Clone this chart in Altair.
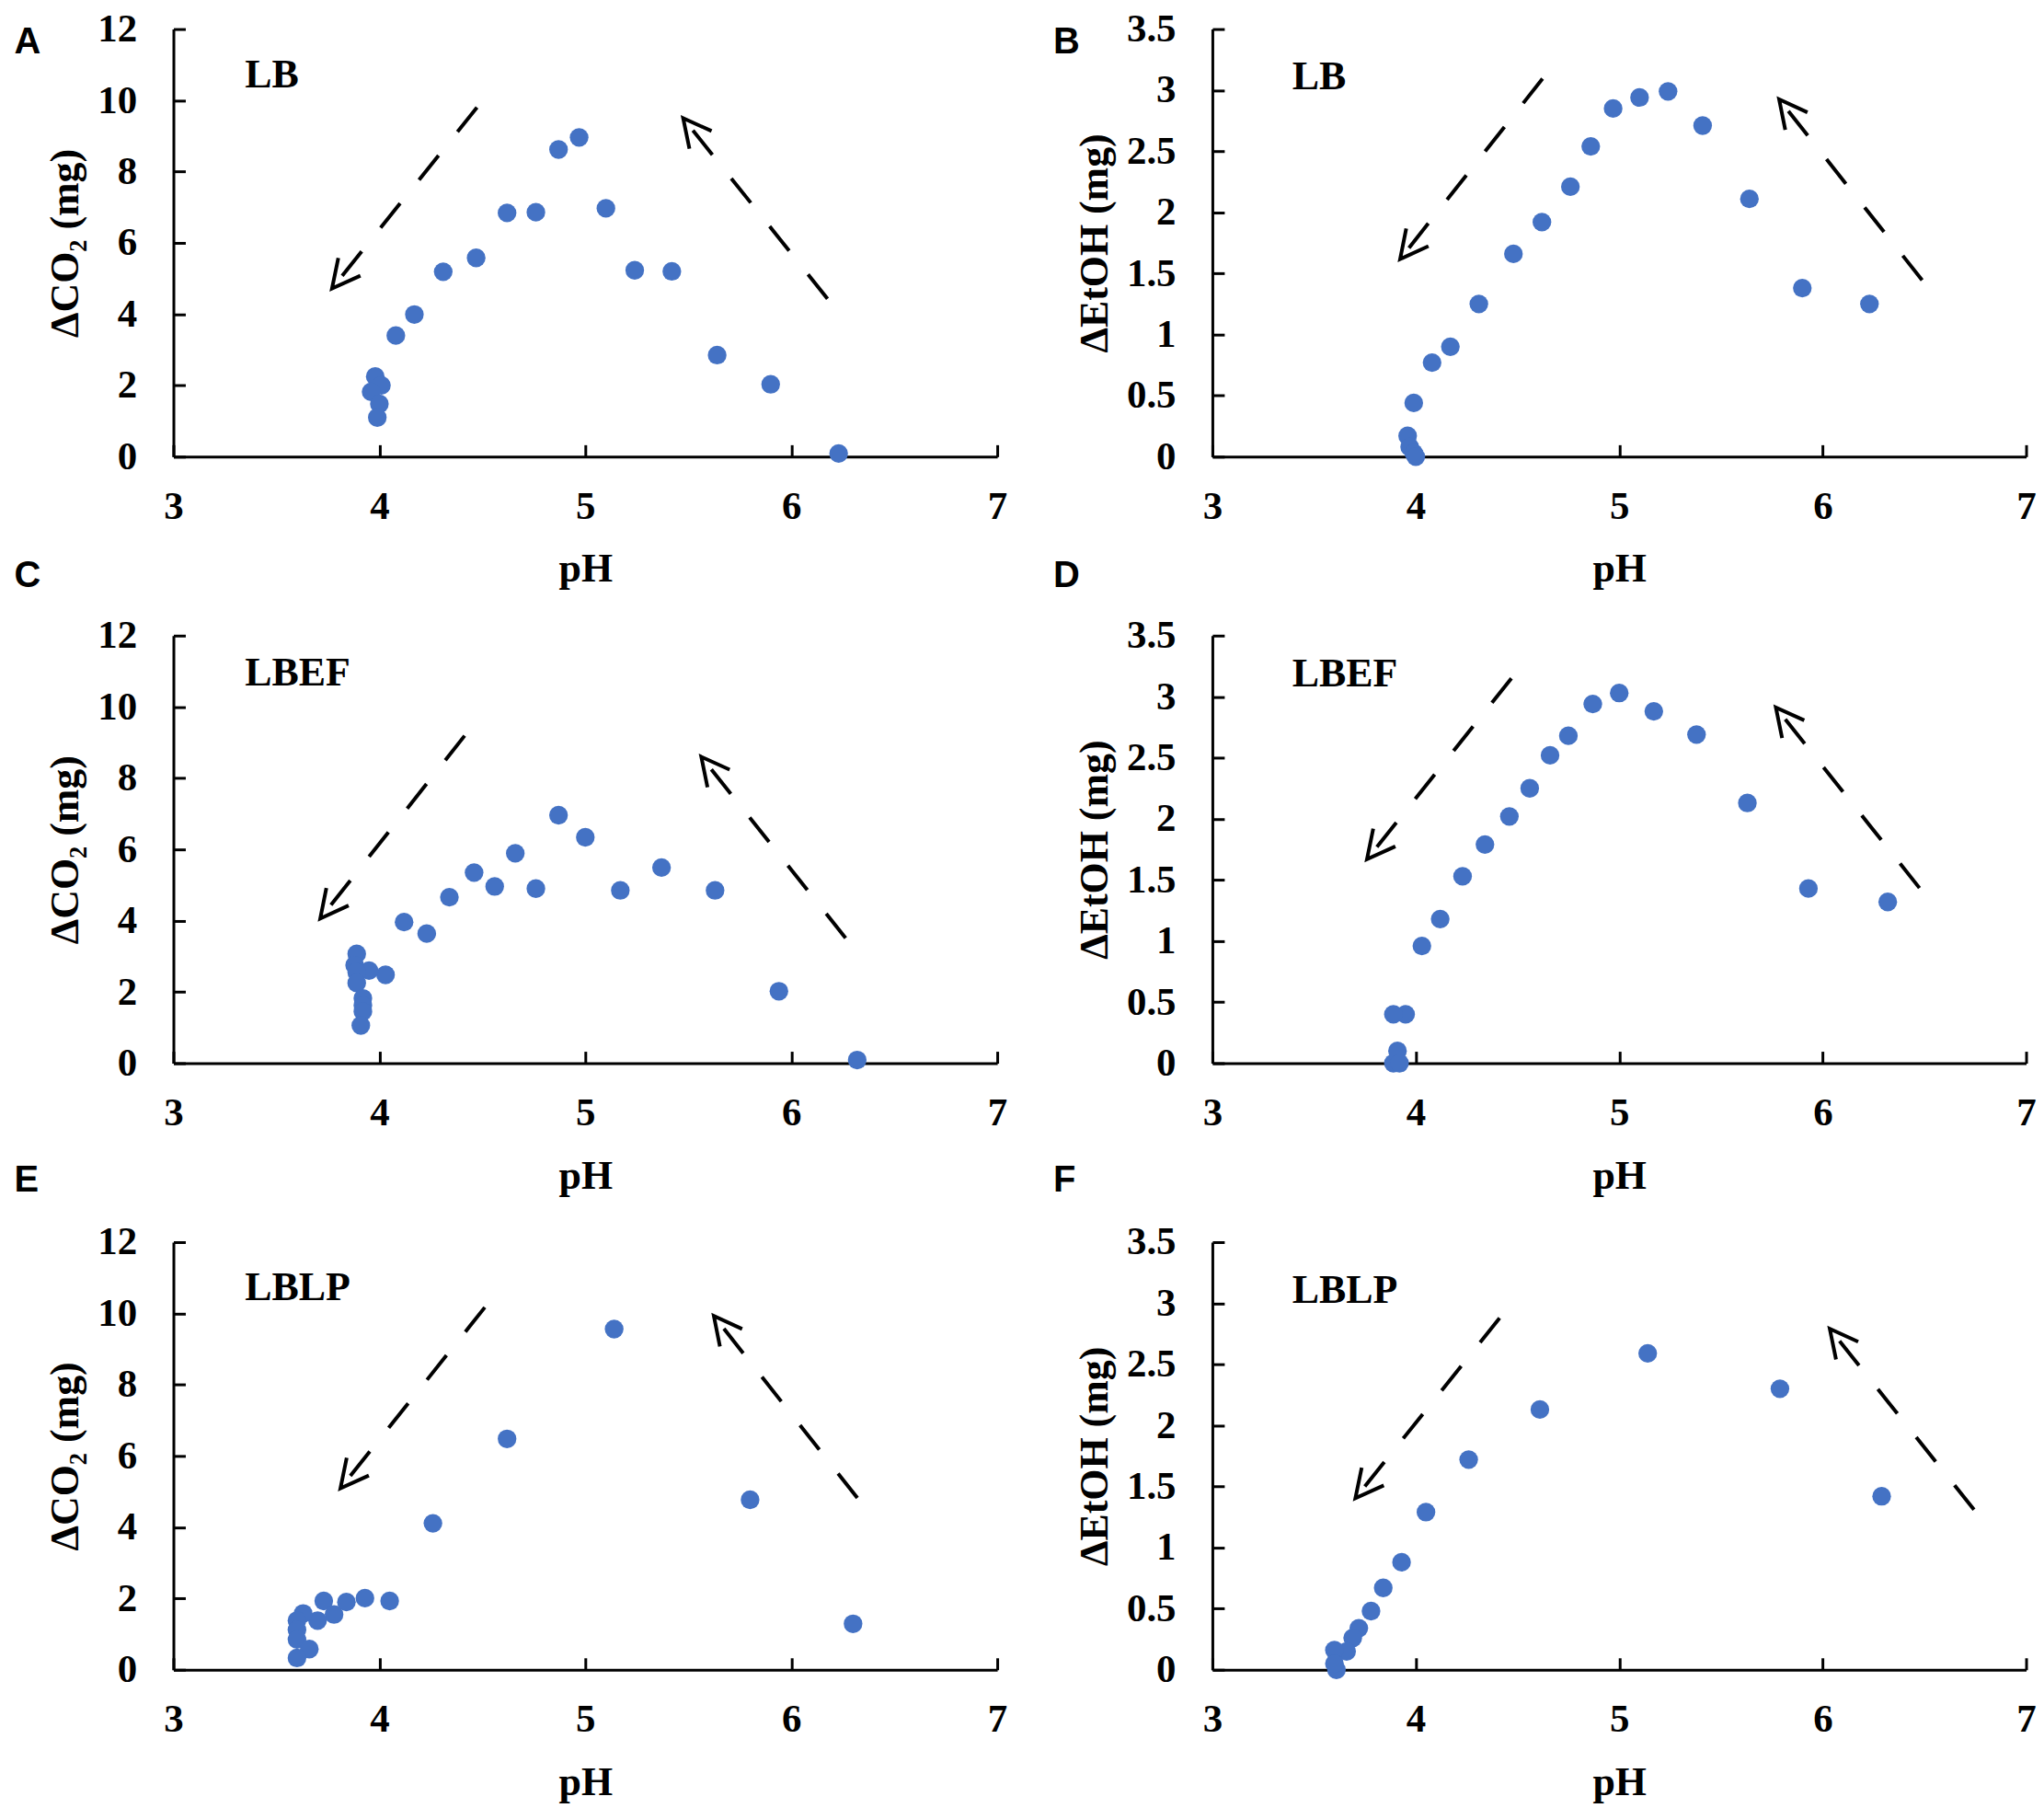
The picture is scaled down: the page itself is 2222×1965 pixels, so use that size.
import math
import altair as alt
import pandas as pd

# ---------------- data ----------------
PH_TICKS = [3, 4, 5, 6, 7]
CO2_TICKS = [0, 2, 4, 6, 8, 10, 12]
ETOH_TICKS = [0, 0.5, 1, 1.5, 2, 2.5, 3, 3.5]

# Panel A: LB, delta CO2
A_ph = [6.23, 5.90, 5.64, 5.42, 5.24, 5.10, 4.97, 4.87, 4.76, 4.62, 4.47, 4.31, 4.17, 4.08, 3.98, 4.01, 3.96, 4.00, 3.99]
A_co2 = [0.09, 2.03, 2.85, 5.20, 5.23, 6.97, 8.96, 8.62, 6.86, 6.84, 5.58, 5.19, 3.99, 3.40, 2.25, 2.00, 1.82, 1.48, 1.10]

# Panel B: LB, delta EtOH
B_ph = [6.23, 5.90, 5.64, 5.41, 5.24, 5.10, 4.97, 4.86, 4.76, 4.62, 4.48, 4.31, 4.17, 4.08, 3.99, 3.96, 3.97, 3.99, 4.00]
B_etoh = [1.25, 1.38, 2.11, 2.71, 2.99, 2.94, 2.85, 2.54, 2.21, 1.92, 1.66, 1.25, 0.90, 0.77, 0.44, 0.17, 0.08, 0.03, 0.00]

# Panel C: LBEF, delta CO2
C_ph = [6.32, 5.94, 5.63, 5.37, 5.17, 5.00, 4.87, 4.76, 4.66, 4.56, 4.46, 4.34, 4.23, 4.12, 4.03, 3.95, 3.89, 3.88, 3.89, 3.89, 3.92, 3.92, 3.92, 3.91]
C_co2 = [0.09, 2.02, 4.85, 5.49, 4.85, 6.34, 6.96, 4.90, 5.89, 4.96, 5.35, 4.66, 3.64, 3.96, 2.48, 2.60, 3.07, 2.75, 2.55, 2.25, 1.82, 1.62, 1.45, 1.06]

# Panel D: LBEF, delta EtOH
D_ph = [6.32, 5.93, 5.63, 5.38, 5.17, 5.00, 4.87, 4.75, 4.66, 4.56, 4.46, 4.34, 4.23, 4.12, 4.03, 3.95, 3.89, 3.91, 3.89, 3.92]
D_etoh = [1.32, 1.43, 2.13, 2.69, 2.88, 3.03, 2.94, 2.68, 2.52, 2.25, 2.02, 1.79, 1.53, 1.18, 0.96, 0.40, 0.40, 0.10, 0.00, 0.00]

# Panel E: LBLP, delta CO2
E_ph = [6.30, 5.80, 5.14, 4.62, 4.26, 4.05, 3.93, 3.84, 3.73, 3.78, 3.70, 3.63, 3.60, 3.60, 3.60, 3.66, 3.60]
E_co2 = [1.29, 4.77, 9.56, 6.48, 4.11, 1.93, 2.01, 1.90, 1.93, 1.55, 1.38, 1.58, 1.38, 1.12, 0.85, 0.58, 0.33]

# Panel F: LBLP, delta EtOH
F_ph = [6.29, 5.79, 5.14, 4.61, 4.26, 4.05, 3.93, 3.84, 3.78, 3.72, 3.69, 3.66, 3.60, 3.61, 3.60]
F_etoh = [1.42, 2.30, 2.59, 2.13, 1.72, 1.29, 0.88, 0.67, 0.48, 0.34, 0.26, 0.15, 0.16, 0.00, 0.05]

# dashed arrows (tail pH, tail value, tip pH, tip value), in data units
A_arrows = [(4.474, 9.80, 3.770, 4.72), (6.176, 4.43, 5.475, 9.50)]
B_arrows = [(4.623, 3.094, 3.923, 1.617), (6.489, 1.445, 5.786, 2.925)]
C_arrows = [(4.414, 9.19, 3.713, 4.06), (6.264, 3.51, 5.563, 8.60)]
D_arrows = [(4.470, 3.15, 3.760, 1.669), (6.476, 1.434, 5.770, 2.912)]
E_arrows = [(4.512, 10.17, 3.811, 5.09), (6.321, 4.82, 5.624, 9.93)]
F_arrows = [(4.412, 2.878, 3.703, 1.404), (6.744, 1.31, 6.035, 2.79)]

# panel tags (text, pH, value of baseline)
A_tag = ("LB", 3.347, 10.35)
B_tag = ("LB", 3.392, 3.01)
C_tag = ("LBEF", 3.347, 10.61)
D_tag = ("LBEF", 3.392, 3.085)
E_tag = ("LBLP", 3.347, 10.38)
F_tag = ("LBLP", 3.392, 3.00)

CO2_TITLE = "\u0394CO\u2082 (mg)"
ETOH_TITLE = "\u0394EtOH (mg)"

# ---------------- layout / style ----------------
H = 466
W_LEFT = 898
W_RIGHT = 887
SERIF = "Liberation Serif"
SANS = "Liberation Sans"
BLUE = "#4472C4"
HEAD_PATH = "M0.891,-0.454L0,0L0.891,0.454"
HEAD_LEN = 34


def panel(ph, vals, ymax, yticks, ytitle, tag, arrows, letter, W, letter_dy):
    xs = alt.Scale(domain=[3, 7], nice=False, zero=False)
    ys = alt.Scale(domain=[0, ymax], nice=False)

    pts = pd.DataFrame({"pH": ph, "v": vals})
    rows = []
    for tx, ty, hx, hy in arrows:
        dxs = (tx - hx) / 4.0 * W
        dys = -(ty - hy) / ymax * H
        ang = math.degrees(math.atan2(dys, dxs)) % 360
        rows.append({"tx": tx, "ty": ty, "hx": hx, "hy": hy, "ang": ang})
    arr = pd.DataFrame(rows)
    lab = pd.DataFrame({"t": [tag[0]], "lx": [tag[1]], "ly": [tag[2]]})

    tick_x_axis = alt.Axis(orient="top", offset=-H, values=PH_TICKS, labels=False,
                           domain=False, ticks=True, tickSize=13, tickWidth=3,
                           tickColor="black", grid=False, title=None)
    tick_y_axis = alt.Axis(orient="right", offset=-W, values=yticks, labels=False,
                           domain=False, ticks=True, tickSize=13, tickWidth=3,
                           tickColor="black", grid=False, title=None)
    main_x_axis = alt.Axis(orient="bottom", values=PH_TICKS, format="d", ticks=False,
                           tickSize=0, grid=False, labelPadding=33, labelFlush=False,
                           labelOverlap=False, title="pH", titlePadding=25)
    main_y_axis = alt.Axis(orient="left", values=yticks, format="~g", ticks=False,
                           tickSize=0, grid=False, labelPadding=40, labelOverlap=False,
                           title=ytitle, titlePadding=12)

    shafts = alt.Chart(arr).mark_rule(color="black", strokeWidth=4,
                                      strokeDash=[34, 33]).encode(
        x=alt.X("tx:Q", scale=xs, axis=tick_x_axis),
        y=alt.Y("ty:Q", scale=ys, axis=tick_y_axis),
        x2="hx:Q", y2="hy:Q")

    dots = alt.Chart(pts).mark_circle(size=415, color=BLUE, opacity=1).encode(
        x=alt.X("pH:Q", scale=xs, axis=main_x_axis),
        y=alt.Y("v:Q", scale=ys, axis=main_y_axis))

    heads = alt.Chart(arr).mark_point(shape=HEAD_PATH, filled=False, color="black",
                                      strokeWidth=4, size=(2 * HEAD_LEN) ** 2,
                                      opacity=1, strokeJoin="miter").encode(
        x=alt.X("hx:Q", scale=xs, axis=None),
        y=alt.Y("hy:Q", scale=ys, axis=None),
        angle=alt.Angle("ang:Q", scale=None))

    text = alt.Chart(lab).mark_text(align="left", baseline="alphabetic", font=SERIF,
                                    fontSize=44, fontWeight="bold", color="black").encode(
        x=alt.X("lx:Q", scale=xs, axis=None),
        y=alt.Y("ly:Q", scale=ys, axis=None),
        text="t:N")

    title = alt.TitleParams(text=letter, font=SANS, fontSize=40, fontWeight="bold",
                            color="black", anchor="start", frame="group",
                            baseline="top", offset=0, dx=-173.5, dy=letter_dy)

    return alt.layer(shafts, dots, heads, text).resolve_axis(
        x="independent", y="independent").properties(width=W, height=H, title=title)


pA = panel(A_ph, A_co2, 12, CO2_TICKS, CO2_TITLE, A_tag, A_arrows, "A", W_LEFT, 55)
pB = panel(B_ph, B_etoh, 3.5, ETOH_TICKS, ETOH_TITLE, B_tag, B_arrows, "B", W_RIGHT, 55)
pC = panel(C_ph, C_co2, 12, CO2_TICKS, CO2_TITLE, C_tag, C_arrows, "C", W_LEFT, -24)
pD = panel(D_ph, D_etoh, 3.5, ETOH_TICKS, ETOH_TITLE, D_tag, D_arrows, "D", W_RIGHT, -24)
pE = panel(E_ph, E_co2, 12, CO2_TICKS, CO2_TITLE, E_tag, E_arrows, "E", W_LEFT, -26)
pF = panel(F_ph, F_etoh, 3.5, ETOH_TICKS, ETOH_TITLE, F_tag, F_arrows, "F", W_RIGHT, -26)

chart = alt.concat(pA, pB, pC, pD, pE, pF, columns=2,
                   spacing={"row": 195, "column": 234.5}, bounds="flush").properties(
    padding={"left": 7, "top": 0, "right": 0, "bottom": 0}
).configure_view(stroke=None).configure_axis(
    domainColor="black", domainWidth=3,
    labelFont=SERIF, labelFontSize=43, labelFontWeight="bold", labelColor="black",
    titleFont=SERIF, titleFontSize=44, titleFontWeight="bold", titleColor="black",
)

chart.save("out.html", embed_options={"renderer": "svg", "actions": False})
